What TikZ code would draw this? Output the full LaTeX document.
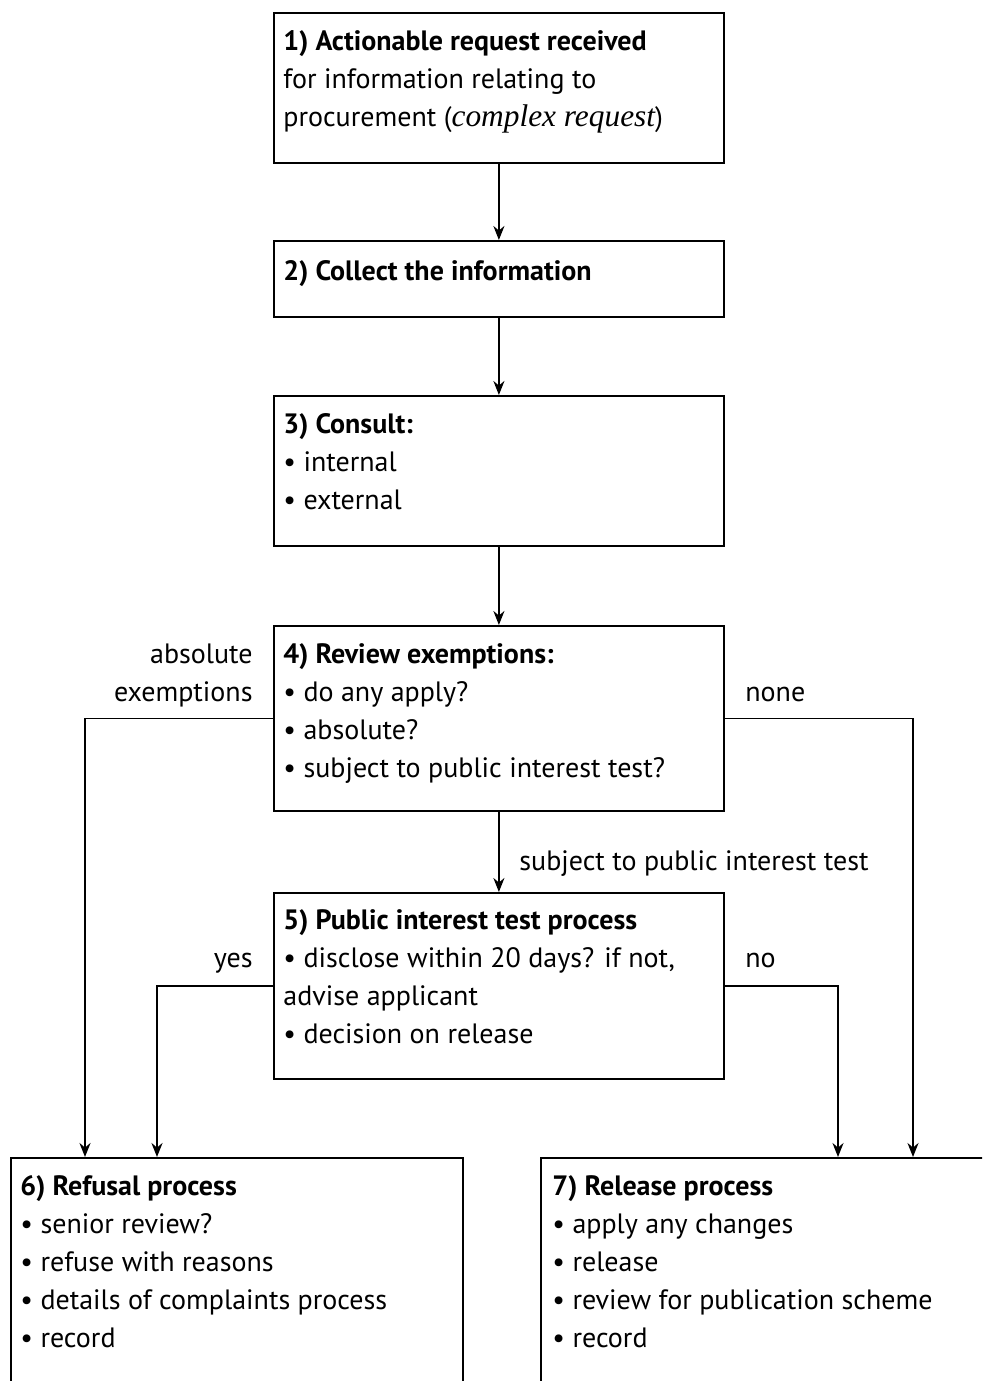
\documentclass[tikz,border=0pt]{standalone}
\usepackage{fontspec}
\setmainfont{PT Sans}
\newfontfamily\serifit[Scale=1.12]{Liberation Serif}
\usetikzlibrary{arrows.meta}
\begin{document}
\begin{tikzpicture}[x=0.5pt,y=-0.5pt,
  box/.style={draw, line width=0.9pt, inner sep=0pt, anchor=north west, rectangle},
  txt/.style={inner sep=0pt, anchor=north west, align=left, font=\fontsize{14}{19}\selectfont},
  lbl/.style={inner sep=0pt, font=\fontsize{14}{19}\selectfont},
  conn/.style={line width=0.9pt, -{Stealth[length=7pt,width=5.5pt]}},
]
\clip (0,0) rectangle (982,1381);
% boxes
\node[box, minimum width=225pt, minimum height=75pt] (b1) at (273,12) {};
\node[box, minimum width=225pt, minimum height=38pt] (b2) at (273,240) {};
\node[box, minimum width=225pt, minimum height=75pt] (b3) at (273,395) {};
\node[box, minimum width=225pt, minimum height=92.5pt] (b4) at (273,625) {};
\node[box, minimum width=225pt, minimum height=93pt] (b5) at (273,892) {};
\node[box, minimum width=226pt, minimum height=140pt] (b6) at (10,1157) {};
\node[box, minimum width=235pt, minimum height=140pt] (b7) at (540,1157) {};
% texts
\node[txt] (t1) at (283,23.4) {\strut\textbf{1) Actionable request received}\\for information relating to\\procurement ({\serifit\itshape complex request})};
\node[txt] (t2) at (283,253.4) {\strut\textbf{2) Collect the information}};
\node[txt] (t3) at (283,406.4) {\strut\textbf{3) Consult:}\\• internal\\• external};
\node[txt] (t4) at (283,636.4) {\strut\textbf{4) Review exemptions:}\\• do any apply?\\• absolute?\\• subject to public interest test?};
\node[txt] (t5) at (283,902.4) {\strut\textbf{5) Public interest test process}\\• disclose within 20 days? if not,\\advise applicant\\• decision on release};
\node[txt] (t6) at (20,1168.4) {\strut\textbf{6) Refusal process}\\• senior review?\\• refuse with reasons\\• details of complaints process\\• record};
\node[txt] (t7) at (552,1168.4) {\strut\textbf{7) Release process}\\• apply any changes\\• release\\• review for publication scheme\\• record};
% labels
\node[lbl, anchor=north east, align=right] (l1) at (253,636.4) {\strut absolute\\exemptions};
\node[lbl, anchor=base west] (l2) at (745,701) {none};
\node[lbl, anchor=base west] (l3) at (519,870) {subject to public interest test};
\node[lbl, anchor=base east] (l4) at (253,967) {yes};
\node[lbl, anchor=base west] (l5) at (745,967) {no};
% entry points
\coordinate (in6a) at ([xshift=37.5pt]b6.north west);
\coordinate (in6b) at ([xshift=73.5pt]b6.north west);
\coordinate (in7a) at ([xshift=149pt]b7.north west);
\coordinate (in7b) at ([xshift=186.5pt]b7.north west);
% connectors
\draw[conn] (b1.south) -- (b2.north);
\draw[conn] (b2.south) -- (b3.north);
\draw[conn] (b3.south) -- (b4.north);
\draw[conn] (b4.south) -- (b5.north);
\draw[conn] (b4.west) -| (in6a);
\draw[conn] (b5.west) -| (in6b);
\draw[conn] (b4.east) -| (in7b);
\draw[conn] (b5.east) -| (in7a);
\end{tikzpicture}
\end{document}
